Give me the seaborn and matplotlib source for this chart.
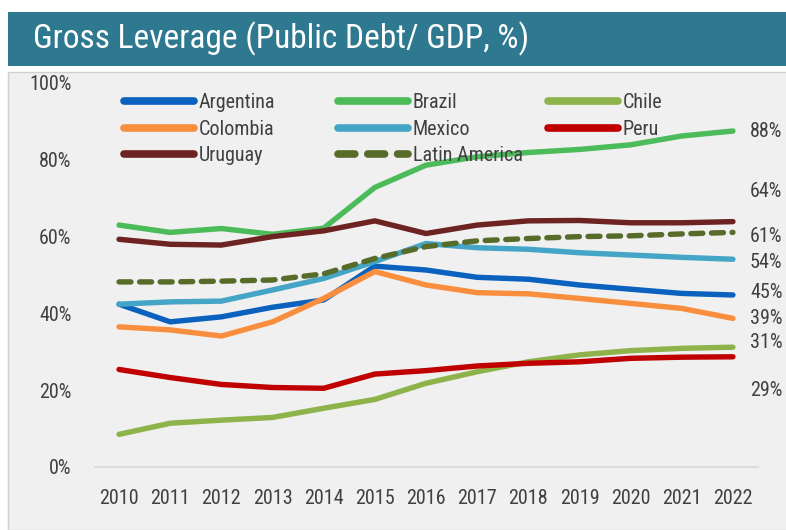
import matplotlib
matplotlib.use("Agg")
import matplotlib.pyplot as plt
import seaborn as sns
import pandas as pd
from matplotlib.patches import Rectangle
from matplotlib.lines import Line2D
from matplotlib import font_manager

years = list(range(2010, 2023))
argentina = [42.4, 37.8, 39.1, 41.6, 43.5, 52.3, 51.3, 49.4, 48.9, 47.4, 46.3, 45.2, 44.8]
brazil = [63.0, 61.1, 62.1, 60.6, 62.2, 72.8, 78.6, 80.8, 81.9, 82.7, 83.9, 86.2, 87.5]
chile = [8.5, 11.4, 12.2, 12.9, 15.3, 17.6, 21.8, 24.8, 27.4, 29.2, 30.3, 30.9, 31.2]
colombia = [36.5, 35.7, 34.1, 37.8, 43.9, 50.9, 47.4, 45.4, 45.1, 43.9, 42.6, 41.3, 38.7]
mexico = [42.4, 43.0, 43.2, 46.1, 49.1, 53.5, 58.2, 57.1, 56.7, 55.8, 55.2, 54.6, 54.1]
peru = [25.4, 23.3, 21.5, 20.7, 20.5, 24.2, 25.1, 26.3, 27.0, 27.4, 28.3, 28.6, 28.7]
uruguay = [59.3, 58.0, 57.8, 60.0, 61.5, 64.1, 60.8, 63.0, 64.1, 64.2, 63.6, 63.6, 63.9]
latam = [48.2, 48.2, 48.4, 48.7, 50.3, 54.3, 57.4, 58.9, 59.5, 60.0, 60.2, 60.7, 61.1]

end_labels = ["88%", "64%", "61%", "54%", "45%", "39%", "31%", "29%"]
y_ticks = [0, 20, 40, 60, 80, 100]
title = "Gross Leverage (Public Debt/ GDP, %)"

series = {
    "Argentina": argentina, "Brazil": brazil, "Chile": chile,
    "Colombia": colombia, "Mexico": mexico, "Peru": peru,
    "Uruguay": uruguay, "Latin America": latam,
}
colors = {
    "Argentina": "#0A62BE", "Brazil": "#4CBB5A", "Chile": "#8DB34A",
    "Colombia": "#F98F3E", "Mexico": "#45A5C6", "Peru": "#C00000",
    "Uruguay": "#6E2323", "Latin America": "#586C2A",
}

sns.set_theme(style="white")
avail = {f.name for f in font_manager.fontManager.ttflist}
fams = [f for f in ["Liberation Sans Narrow", "Arial Narrow", "Roboto Condensed", "Liberation Sans"] if f in avail]
plt.rcParams["font.family"] = fams + ["DejaVu Sans"]

W, H = 786, 530
fig = plt.figure(figsize=(W / 100, H / 100), dpi=100)
fig.patch.set_facecolor("white")

def fx(px):
    return px / W

def fy(py):
    return 1 - py / H

# panel background
fig.patches.append(Rectangle((fx(8), 0), 1, fy(72), transform=fig.transFigure,
                             facecolor="#F0F0F0", edgecolor="#D0D0D0", lw=1.0, zorder=-2))
# title banner
fig.patches.append(Rectangle((fx(8), fy(66)), 1, fy(12) - fy(66), transform=fig.transFigure,
                             facecolor="#2E7890", edgecolor="none", zorder=-2))
fig.text(fx(33), fy(39), title, color="white", fontsize=24, va="center", ha="left")

ax = fig.add_axes([fx(95), fy(467), fx(758) - fx(95), fy(83) - fy(467)])
ax.set_facecolor("none")
ax.set_zorder(1)

rows = []
for name, vals in series.items():
    for yr, v in zip(years, vals):
        rows.append({"Year": yr, "Value": v, "Series": name})
df = pd.DataFrame(rows)

handles = {}
for name in series:
    sub = df[df["Series"] == name]
    dashed = name == "Latin America"
    sns.lineplot(data=sub, x="Year", y="Value", ax=ax, color=colors[name],
                 lw=3.9, ls=(0, (2.2, 1.6)) if dashed else "-",
                 solid_capstyle="round", dash_capstyle="round", legend=False)
    handles[name] = Line2D([], [], color=colors[name], lw=5.5,
                           ls=(0, (2.2, 1.7)) if dashed else "-",
                           solid_capstyle="round", dash_capstyle="round")

ax.set_xlim(2009.53, 2022.49)
ax.set_ylim(0, 100)
ax.set_xticks(years)
ax.set_xticklabels([str(y) for y in years])
ax.set_yticks(y_ticks)
ax.set_yticklabels([f"{v}%" for v in y_ticks])
ax.tick_params(axis="both", length=0, labelsize=14.5, colors="#404040")
ax.tick_params(axis="y", pad=17)
ax.tick_params(axis="x", pad=16)
ax.set_xlabel("")
ax.set_ylabel("")
for s in ["top", "right", "left"]:
    ax.spines[s].set_visible(False)
ax.spines["bottom"].set_color("#D9D9D9")
ax.spines["bottom"].set_linewidth(1.2)
ax.grid(False)

# end labels
label_px = [131, 192, 237, 262, 293, 318, 342, 390]
for txt, py in zip(end_labels, label_px):
    fig.text(fx(750), fy(py), txt, fontsize=14.5, color="#404040", va="center", ha="left")

# legend in three columns
cols = [["Argentina", "Colombia", "Uruguay"], ["Brazil", "Mexico", "Latin America"], ["Chile", "Peru"]]
col_x = [124, 338, 548]
for names, cx in zip(cols, col_x):
    leg = fig.legend([handles[n] for n in names], names, loc="upper left",
                     bbox_to_anchor=(fx(cx), fy(93)), bbox_transform=fig.transFigure,
                     frameon=False, fontsize=14.5, handlelength=3.5, handletextpad=0.2,
                     labelspacing=0.38, borderpad=0, borderaxespad=0, labelcolor="#404040")

fig.savefig("out.png", dpi=100)
print(fams)
